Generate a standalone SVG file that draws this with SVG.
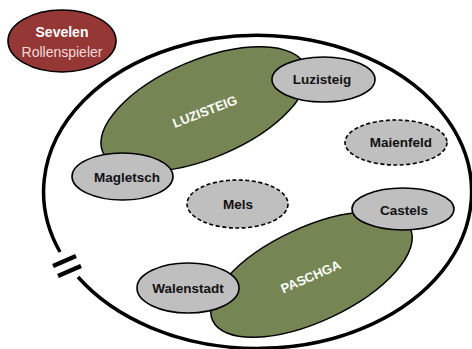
<svg xmlns="http://www.w3.org/2000/svg" width="472" height="349" viewBox="0 0 472 349">
<style>
.area{fill:#758554;stroke:#000;stroke-width:1.5}
.node{fill:#bfbfbf;stroke:#000;stroke-width:1.6}
.dash{stroke-dasharray:4 2.5}
.lbl{font-family:"Liberation Sans",Arial,sans-serif;font-weight:bold;font-size:13.5px;fill:#111;text-anchor:middle}
.alb{font-family:"Liberation Sans",Arial,sans-serif;font-weight:bold;font-size:13px;fill:#fff;text-anchor:middle}
</style>
<rect width="472" height="349" fill="#fff"/>
<g id="boundary">
<path d="M 78 277 A 214 156.5 0 1 0 60 252" fill="none" stroke="#000" stroke-width="3.5"/>
<line x1="53" y1="266" x2="76" y2="256" stroke="#000" stroke-width="4.5"/>
<line x1="58" y1="276" x2="81" y2="266" stroke="#000" stroke-width="4.5"/>
</g>
<g id="sevelen">
<ellipse cx="62" cy="41" rx="54" ry="31" fill="#953735" stroke="#000" stroke-width="1.6"/>
<text x="62" y="37" font-family="'Liberation Sans',Arial,sans-serif" font-weight="bold" font-size="14" fill="#fff" text-anchor="middle">Sevelen</text>
<text x="62" y="57" font-family="'Liberation Sans',Arial,sans-serif" font-size="14" fill="#f2dcdb" text-anchor="middle">Rollenspieler</text>
</g>
<g id="area-luzisteig">
<ellipse class="area" cx="204" cy="109" rx="110" ry="49" transform="rotate(-23 204 109)"/>
<text class="alb" x="205" y="116" transform="rotate(-21 205 112)">LUZISTEIG</text>
</g>
<g id="area-paschga">
<ellipse class="area" cx="311.5" cy="274.5" rx="109" ry="47" transform="rotate(-25 311.5 274.5)"/>
<text class="alb" x="311" y="281" transform="rotate(-23.5 311 277)">PASCHGA</text>
</g>
<g id="luzisteig">
<ellipse class="node" cx="323.5" cy="79.5" rx="51.5" ry="22.5"/>
<text class="lbl" x="322" y="84">Luzisteig</text>
</g>
<g id="magletsch">
<ellipse class="node" cx="122.5" cy="176.5" rx="50.5" ry="23.5"/>
<text class="lbl" x="127" y="182">Magletsch</text>
</g>
<g id="mels">
<ellipse class="node dash" cx="237.5" cy="204" rx="50.5" ry="24"/>
<text class="lbl" x="238" y="209">Mels</text>
</g>
<g id="maienfeld">
<ellipse class="node dash" cx="396" cy="142.5" rx="51" ry="22.5"/>
<text class="lbl" x="401" y="147">Maienfeld</text>
</g>
<g id="castels">
<ellipse class="node" cx="403" cy="209" rx="51" ry="21"/>
<text class="lbl" x="404" y="215">Castels</text>
</g>
<g id="walenstadt">
<ellipse class="node" cx="188" cy="288" rx="51" ry="25"/>
<text class="lbl" x="188" y="293">Walenstadt</text>
</g>
<g id="connectors"></g>
</svg>
